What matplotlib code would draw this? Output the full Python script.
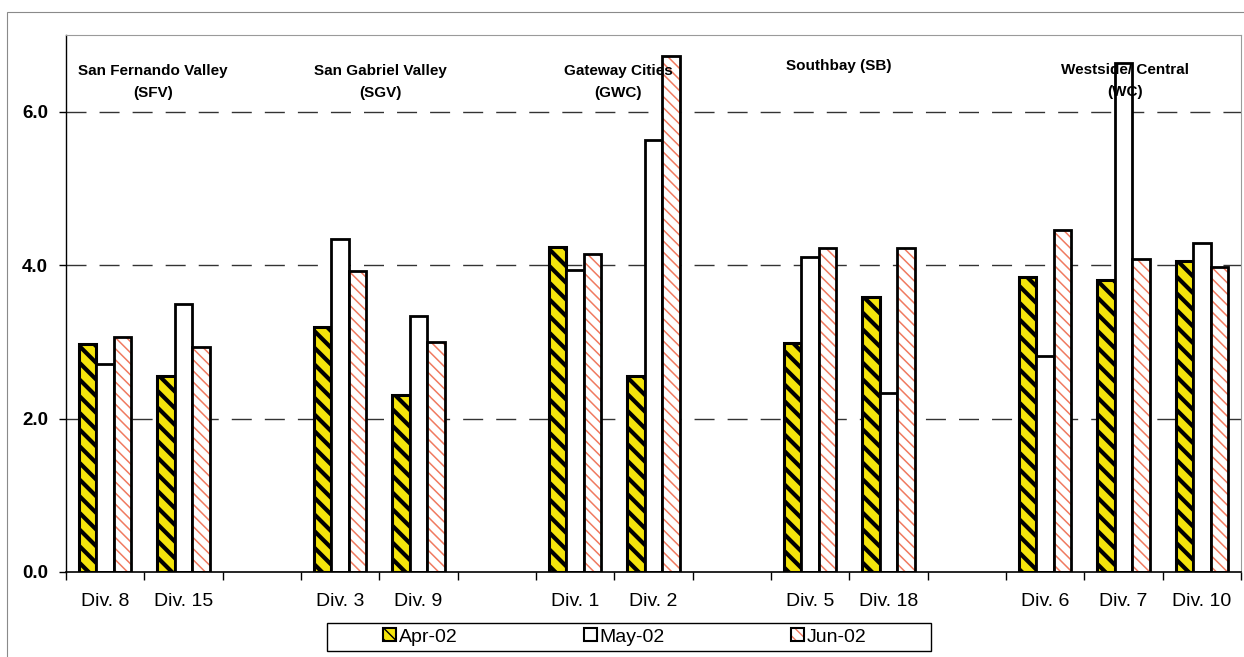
import numpy as np
import matplotlib
matplotlib.use("Agg")
import matplotlib.pyplot as plt
from matplotlib.patches import Patch, Rectangle
from matplotlib.legend_handler import HandlerTuple

# Divisions along the axis ('' marks the spacer slot between regions)
divisions = ["Div. 8", "Div. 15", "", "Div. 3", "Div. 9", "", "Div. 1", "Div. 2", "",
             "Div. 5", "Div. 18", "", "Div. 6", "Div. 7", "Div. 10"]

months = ["Apr-02", "May-02", "Jun-02"]

apr_02 = [2.97, 2.55, None, 3.20, 2.31, None, 4.24, 2.55, None, 2.98, 3.58, None, 3.85, 3.80, 4.05]
may_02 = [2.71, 3.50, None, 4.34, 3.34, None, 3.94, 5.63, None, 4.10, 2.33, None, 2.82, 6.64, 4.29]
jun_02 = [3.06, 2.93, None, 3.93, 3.00, None, 4.15, 6.72, None, 4.22, 4.22, None, 4.46, 4.08, 3.97]

regions = ["San Fernando Valley\n(SFV)", "San Gabriel Valley\n(SGV)", "Gateway Cities\n(GWC)",
           "Southbay (SB)", "Westside/ Central\n(WC)"]
region_x = [0.61, 3.51, 6.55, 9.36, 13.02]
region_y = [6.39, 6.39, 6.39, 6.59, 6.40]

y_ticks = [0.0, 2.0, 4.0, 6.0]

SANS = ["Liberation Sans", "DejaVu Sans"]

APR_FACE = "#f4e40c"
JUN_HATCH = "#f07a60"


def as_array(vals):
    return np.array([np.nan if v is None else v for v in vals], dtype=float)


fig = plt.figure(figsize=(12.44, 6.57), dpi=100)
ax = fig.add_axes([66 / 1244, 1 - 572 / 657, (1241 - 66) / 1244, (572 - 35) / 657])

x = np.arange(len(divisions))
w = 0.224

# Dashed horizontal guides behind the bars
for yv in y_ticks[1:]:
    ax.axhline(yv, color="#333333", lw=1.0, dashes=(14.4, 9.4), zorder=0)

# Apr-02: yellow with heavy black diagonal stripes
apr = ax.bar(x - w, as_array(apr_02), width=w, facecolor=APR_FACE, edgecolor="black",
             hatch="\\\\", linewidth=2.2, zorder=2)
for p in apr:
    if hasattr(p, "set_hatch_linewidth"):
        p.set_hatch_linewidth(3.0)

# May-02: plain white
may = ax.bar(x, as_array(may_02), width=w, facecolor="white", edgecolor="black",
             linewidth=2.0, zorder=2)

# Jun-02: white with thin salmon diagonal pattern, black outline on top
jun_fill = ax.bar(x + w, as_array(jun_02), width=w, facecolor="white", edgecolor=JUN_HATCH,
                  hatch="\\\\\\", linewidth=0, zorder=2)
for p in jun_fill:
    if hasattr(p, "set_hatch_linewidth"):
        p.set_hatch_linewidth(1.1)
ax.bar(x + w, as_array(jun_02), width=w, fill=False, edgecolor="black", linewidth=2.0, zorder=3)

ax.set_xlim(-0.5, len(divisions) - 0.5)
ax.set_ylim(0, 7.0)

# Region titles
for name, rx, ry in zip(regions, region_x, region_y):
    ax.text(rx, ry, name, ha="center", va="center", fontsize=11, fontweight="bold",
            family=SANS, linespacing=1.7, zorder=5)

# Axes styling
for side in ("top", "right"):
    ax.spines[side].set_color("#9a9a9a")
    ax.spines[side].set_linewidth(0.8)
    ax.spines[side].set_linestyle((0, (2, 1)))
ax.spines["left"].set_linewidth(1.0)
ax.spines["bottom"].set_linewidth(1.2)

ax.set_yticks(y_ticks)
ax.set_yticklabels([f"{v:.1f}" for v in y_ticks], fontsize=13.5, fontweight="bold", family=SANS)
ax.tick_params(axis="y", direction="out", length=5, width=1.0, pad=8)

ax.set_xticks(x)
ax.set_xticklabels(divisions, fontsize=14, family=SANS)
ax.tick_params(axis="x", which="major", length=0, pad=15)
ax.set_xticks(np.arange(len(divisions) + 1) - 0.5, minor=True)
ax.tick_params(axis="x", which="minor", direction="out", length=6, width=1.0)

# Legend with a separately drawn frame
h_apr = Patch(facecolor=APR_FACE, edgecolor="black", hatch="\\\\\\", linewidth=1.5)
h_may = Patch(facecolor="white", edgecolor="black", linewidth=1.5)
h_jun_fill = Patch(facecolor="white", edgecolor=JUN_HATCH, hatch="\\\\\\", linewidth=0)
h_jun_edge = Patch(fill=False, edgecolor="black", linewidth=1.5)
leg = fig.legend([h_apr, h_may, (h_jun_fill, h_jun_edge)], months,
                 handler_map={tuple: HandlerTuple(ndivide=1)},
                 loc="center", bbox_to_anchor=(625 / 1244, 1 - 637 / 657),
                 ncol=3, frameon=False, prop={"family": SANS, "size": 14},
                 handlelength=0.65, handleheight=0.65, handletextpad=0.15,
                 columnspacing=6.5)
fig.patches.append(Rectangle((327 / 1244, 1 - 651 / 657), 604 / 1244, 28 / 657,
                             transform=fig.transFigure, fill=False, edgecolor="black",
                             linewidth=1.0))

# Outer chart border
fig.patches.append(Rectangle((7 / 1244, -0.05), 1.2, 1 - 12 / 657 + 0.05,
                             transform=fig.transFigure, fill=False, edgecolor="#8a8a8a",
                             linewidth=0.8))

fig.savefig("out.png", dpi=100, facecolor="white")
